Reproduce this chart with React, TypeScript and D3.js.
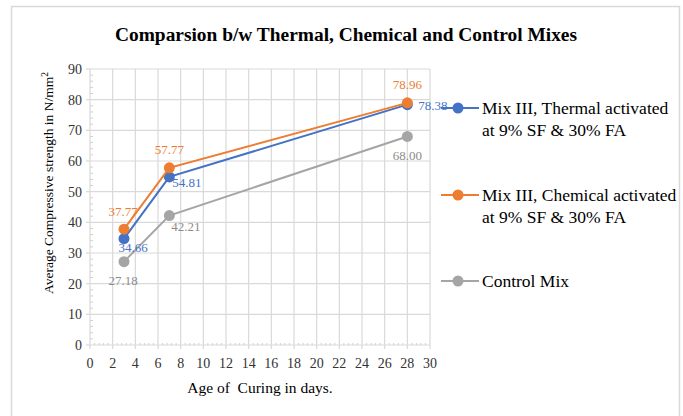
import React from "react";
import * as d3 from "d3";

const days = [3, 7, 28];
const thermal = [34.66, 54.81, 78.38];
const chemical = [37.77, 57.77, 78.96];
const control = [27.18, 42.21, 68.0];
const xTicks = d3.range(0, 31, 2);
const yTicks = d3.range(0, 91, 10);
const seriesNames = [
  ["Mix III, Thermal activated", "at 9% SF & 30% FA"],
  ["Mix III, Chemical activated", "at 9% SF & 30% FA"],
  ["Control Mix"],
];
const colors = ["#4472C4", "#ED7D31", "#A5A5A5"];
const labelColors = ["#4472C4", "#ED7D31", "#8c8c8c"];

const W = 683;
const H = 416;
const left = 90, right = 430, top = 69, bottom = 345;
const FONT = "'Liberation Serif', 'Times New Roman', serif";

export default function App() {
  const x = d3.scaleLinear().domain([0, 30]).range([left, right]);
  const y = d3.scaleLinear().domain([0, 90]).range([bottom, top]);
  const line = d3.line<number>().x((_, i) => x(days[i])).y((d) => y(d));
  const data = [thermal, chemical, control];
  const minorX = d3.range(0, 30.01, 0.4).filter((v) => Math.abs(v / 2 - Math.round(v / 2)) > 0.01);
  const minorY = d3.range(0, 90.01, 2).filter((v) => v % 10 !== 0);

  // label placements [dx, dy, anchor] per series & point
  const labelPos: [number, number, string][][] = [
    [[9, 13, "middle"], [3, 10, "start"], [11, 5, "start"]],
    [[-1, -13, "middle"], [0, -14, "middle"], [0, -14, "middle"]],
    [[-1, 23, "middle"], [2, 15, "start"], [0, 24, "middle"]],
  ];
  const legendY = [108, 195, 281];

  return (
    <svg width={W} height={H} style={{ position: "absolute", left: 0, top: 0, background: "#fff" }}>
      <rect x={0} y={0} width={W} height={H} fill="#fff" />
      <rect x={11.5} y={6.5} width={668} height={420} fill="#fff" stroke="#d9d9d9" strokeWidth={1.5} />
      <text x={346} y={41} textAnchor="middle" fontFamily={FONT} fontWeight="bold" fontSize={19.4} fill="#000">
        Comparsion b/w Thermal, Chemical and Control Mixes
      </text>
      {/* gridlines */}
      {xTicks.map((t) => (
        <line key={"gx" + t} x1={x(t)} x2={x(t)} y1={top} y2={bottom} stroke="#d9d9d9" strokeWidth={1.2} />
      ))}
      {yTicks.map((t) => (
        <line key={"gy" + t} x1={left} x2={right} y1={y(t)} y2={y(t)} stroke="#d9d9d9" strokeWidth={1.2} />
      ))}
      {/* axis ticks */}
      {xTicks.map((t) => (
        <line key={"tx" + t} x1={x(t)} x2={x(t)} y1={bottom} y2={bottom + 4} stroke="#d9d9d9" strokeWidth={1.2} />
      ))}
      {minorX.map((t, i) => (
        <line key={"mx" + i} x1={x(t)} x2={x(t)} y1={bottom} y2={bottom - 2} stroke="#d0d0d0" strokeWidth={1} />
      ))}
      {yTicks.map((t) => (
        <line key={"ty" + t} x1={left - 4} x2={left} y1={y(t)} y2={y(t)} stroke="#d9d9d9" strokeWidth={1.2} />
      ))}
      {minorY.map((t, i) => (
        <line key={"my" + i} x1={left} x2={left + 3} y1={y(t)} y2={y(t)} stroke="#d0d0d0" strokeWidth={1} />
      ))}
      {/* tick labels */}
      {xTicks.map((t) => (
        <text key={"lx" + t} x={x(t)} y={bottom + 23} textAnchor="middle" fontFamily={FONT} fontSize={14} fill="#333">
          {t}
        </text>
      ))}
      {yTicks.map((t) => (
        <text key={"ly" + t} x={left - 8} y={y(t) + 5} textAnchor="end" fontFamily={FONT} fontSize={14} fill="#333">
          {t}
        </text>
      ))}
      <text x={260} y={393} textAnchor="middle" fontFamily={FONT} fontSize={15.5} fill="#000" style={{ whiteSpace: "pre" }}>
        {"Age of  Curing in days."}
      </text>
      <text transform={`translate(53,${183}) rotate(-90)`} textAnchor="middle" fontFamily={FONT} fontSize={13.5} fill="#000">
        Average Compressive strength in N/mm<tspan dy={-5} fontSize={9.5}>2</tspan>
      </text>
      {/* series */}
      {[2, 0, 1].map((s) => (
        <g key={"s" + s}>
          <path d={line(data[s]) || ""} fill="none" stroke={colors[s]} strokeWidth={2} />
          {data[s].map((v, i) => (
            <circle key={i} cx={x(days[i])} cy={y(v)} r={5.5} fill={colors[s]} />
          ))}
        </g>
      ))}
      {[2, 0, 1].map((s) =>
        data[s].map((v, i) => {
          const [dx, dy, anchor] = labelPos[s][i];
          return (
            <text key={"dl" + s + i} x={x(days[i]) + dx} y={y(v) + dy} textAnchor={anchor as any} fontFamily={FONT} fontSize={13} fill={labelColors[s]}>
              {v.toFixed(2)}
            </text>
          );
        })
      )}
      {/* legend */}
      {seriesNames.map((names, s) => (
        <g key={"lg" + s}>
          <line x1={441} x2={479} y1={legendY[s]} y2={legendY[s]} stroke={colors[s]} strokeWidth={2} />
          <circle cx={458} cy={legendY[s]} r={5.5} fill={colors[s]} />
          {names.map((n, j) => (
            <text key={j} x={482} y={legendY[s] + 6 + j * 22} fontFamily={FONT} fontSize={17.5} fill="#000">
              {n}
            </text>
          ))}
        </g>
      ))}
    </svg>
  );
}
